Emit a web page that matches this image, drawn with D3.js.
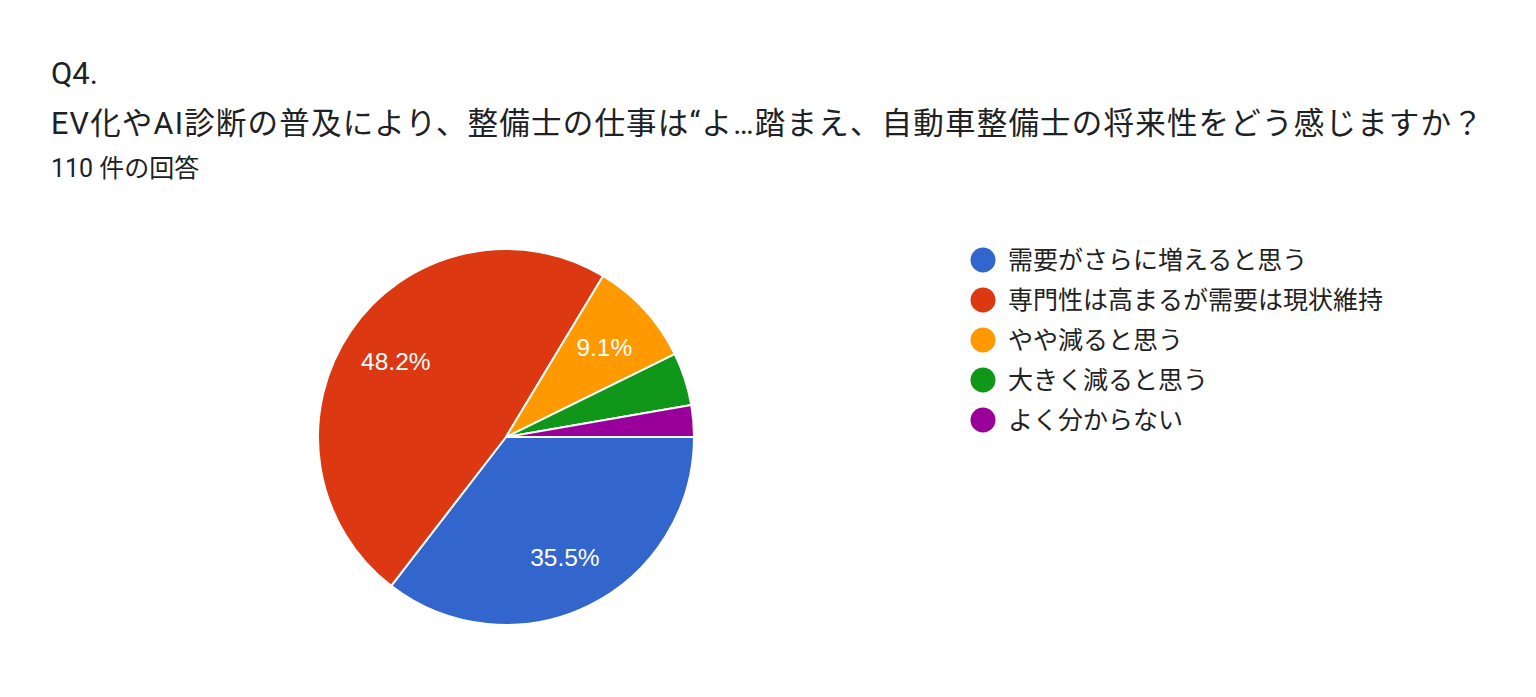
<!DOCTYPE html>
<html>
<head>
<meta charset="utf-8">
<script src="https://cdn.jsdelivr.net/npm/d3@7"></script>
<style>
  html, body { margin: 0; padding: 0; background: #fff; }
  svg { display: block; }
</style>
</head>
<body>
<script>
const questionNo = "Q4.";
const questionTitle = "EV化やAI診断の普及により、整備士の仕事は“よ…踏まえ、自動車整備士の将来性をどう感じますか？";
const responseCount = "110 件の回答";
const categories = ["需要がさらに増えると思う", "専門性は高まるが需要は現状維持", "やや減ると思う", "大きく減ると思う", "よく分からない"];
const counts = [39, 53, 10, 5, 3];
const colors = ["#3366cc", "#dc3912", "#ff9900", "#109618", "#990099"];

const W = 1536, H = 697;
const svg = d3.select("body").append("svg").attr("width", W).attr("height", H);
const fontFam = "Roboto, 'Noto Sans CJK JP', sans-serif";

svg.append("text").attr("x", 51).attr("y", 84)
  .attr("font-family", fontFam).attr("font-size", 31).attr("fill", "#202124")
  .text(questionNo);
svg.append("text").attr("x", 51).attr("y", 134)
  .attr("font-family", fontFam).attr("font-size", 30.5).attr("letter-spacing", 1.2).attr("fill", "#202124")
  .text(questionTitle);
svg.append("text").attr("x", 51).attr("y", 177)
  .attr("font-family", fontFam).attr("font-size", 25).attr("fill", "#202124")
  .text(responseCount);

const total = d3.sum(counts);
const data = categories.map((c, i) => ({ name: c, value: counts[i], color: colors[i] }));
const cx = 506, cy = 437, R = 188;
const pie = d3.pie().value(d => d.value).sort(null)
  .startAngle(Math.PI / 2).endAngle(Math.PI / 2 + 2 * Math.PI);
const arcs = pie(data);
const arc = d3.arc().innerRadius(0).outerRadius(R);
const labelArc = d3.arc().innerRadius(R * 0.71).outerRadius(R * 0.71);

const g = svg.append("g").attr("transform", `translate(${cx},${cy})`);
g.selectAll("path").data(arcs).join("path")
  .attr("d", arc).attr("fill", d => d.data.color)
  .attr("stroke", "#fff").attr("stroke-width", 2).attr("stroke-linejoin", "round");

g.selectAll("text").data(arcs.filter(d => d.data.value / total >= 0.05)).join("text")
  .attr("transform", d => `translate(${labelArc.centroid(d)})`)
  .attr("text-anchor", "middle").attr("dy", "0.36em")
  .attr("font-family", "Arial, 'Liberation Sans', sans-serif").attr("font-size", 24.5)
  .attr("fill", "#fff")
  .text(d => (d.data.value / total * 100).toFixed(1) + "%");

const legend = svg.append("g").attr("transform", "translate(983,260)");
const items = legend.selectAll("g").data(data).join("g")
  .attr("transform", (d, i) => `translate(0,${i * 40})`);
items.append("circle").attr("r", 12.5).attr("fill", d => d.color);
items.append("text").attr("x", 25).attr("y", 0).attr("dy", "0.35em")
  .attr("font-family", fontFam).attr("font-size", 25).attr("fill", "#222")
  .text(d => d.name);
</script>
</body>
</html>
